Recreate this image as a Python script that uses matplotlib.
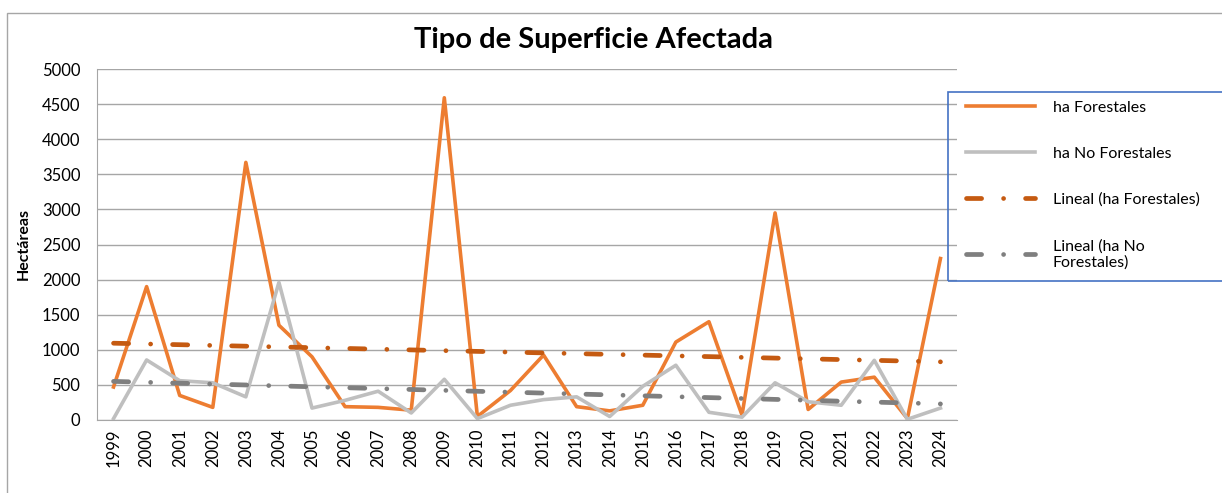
import numpy as np
import matplotlib.pyplot as plt
from matplotlib.patches import Rectangle

plt.rcParams['font.family'] = ['Lato', 'DejaVu Sans']

# ---------- data ----------
years = list(range(1999, 2025))
ha_forestales = [470, 1900, 350, 180, 3670, 1350, 900, 190, 180, 140,
                 4590, 50, 420, 925, 190, 130, 210, 1110, 1400, 70,
                 2950, 150, 540, 610, 20, 2300]
ha_no_forestales = [20, 855, 560, 530, 330, 1960, 170, 280, 410, 100,
                    580, 20, 210, 290, 330, 50, 480, 780, 110, 40,
                    530, 260, 210, 850, 10, 170]

# Excel-style linear trendlines
x = np.arange(len(years))
fit_f = np.polyval(np.polyfit(x, ha_forestales, 1), x)
fit_nf = np.polyval(np.polyfit(x, ha_no_forestales, 1), x)

# ---------- plot ----------
W, H = 1222, 493
fig = plt.figure(figsize=(W / 100, H / 100), dpi=100)
ax = fig.add_axes([97 / W, 1 - 420 / H, (957 - 97) / W, (420 - 69) / H])

# long dash - dot, roughly Excel's "Long Dash Dot"
long_dash_dot = (0, (3.2, 4.65, 0.01, 4.65))
ax.plot(x, ha_forestales, color="#ED7D31", lw=2.6, label="ha Forestales", zorder=3)
ax.plot(x, ha_no_forestales, color="#BFBFBF", lw=2.6, label="ha No Forestales", zorder=3)
ax.plot(x, fit_f, color="#C55A11", lw=3.4, ls=long_dash_dot, dash_capstyle="round",
        label="Lineal (ha Forestales)", zorder=4)
ax.plot(x, fit_nf, color="#7F7F7F", lw=3.4, ls=long_dash_dot, dash_capstyle="round",
        label="Lineal (ha No\nForestales)", zorder=4)

ax.set_xlim(-0.5, len(years) - 0.5)
ax.set_ylim(0, 5000)
ax.set_yticks(range(0, 5001, 500))
ax.set_xticks(x)
ax.set_xticklabels([str(y) for y in years], rotation=90, fontsize=12)
ax.tick_params(axis="y", length=0, labelsize=12, pad=12)
ax.tick_params(axis="x", length=0, pad=6)
ax.grid(axis="y", color="#A6A6A6", lw=1)
ax.set_axisbelow(True)
for side in ["top", "right"]:
    ax.spines[side].set_visible(False)
for side in ["left", "bottom"]:
    ax.spines[side].set_color("#A6A6A6")

ax.set_ylabel("Hectáreas", fontsize=11.5, fontweight="bold", labelpad=8)
fig.text(593 / W, 1 - 40 / H, "Tipo de Superficie Afectada", fontsize=21,
         fontweight="bold", ha="center", va="center")

leg = fig.legend(loc="upper left", bbox_to_anchor=(956 / W, 1 - 90 / H),
                 fontsize=11.5, frameon=False, handlelength=4.3,
                 labelspacing=2.0, borderpad=0.35, borderaxespad=0.3,
                 handletextpad=1.1)

# legend box (runs off the right edge, as in the reference)
fig.patches.append(Rectangle((948 / W, 1 - 281 / H), 0.3, (281 - 92) / H,
                             transform=fig.transFigure, fill=False,
                             edgecolor="#4472C4", lw=1.2))

# outer chart border
fig.patches.append(Rectangle((7 / W, -0.1), 1.2, 1.1 - 13 / H, transform=fig.transFigure,
                             fill=False, edgecolor="#A6A6A6", lw=1))

fig.savefig("out.png", dpi=100)
